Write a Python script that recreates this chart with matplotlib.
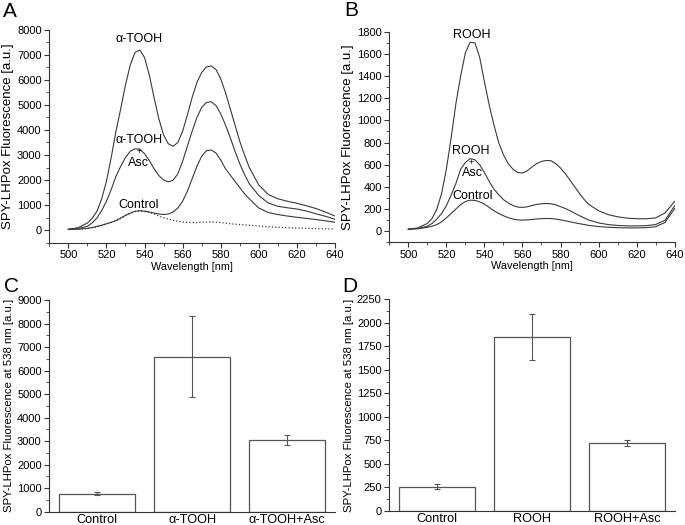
import matplotlib
matplotlib.use("Agg")
import matplotlib.pyplot as plt
from matplotlib.ticker import MultipleLocator

plt.rcParams['font.family'] = ['Liberation Sans', 'DejaVu Sans']
plt.rcParams['font.size'] = 8

# wavelength grid (nm)
wl = [500, 505, 510, 512.5, 515, 517.5, 520, 522.5, 525, 527.5, 530, 532.5, 535,
      537.5, 540, 542.5, 545, 547.5, 550, 552.5, 555, 557.5, 560, 562.5, 565,
      567.5, 570, 572.5, 575, 577.5, 580, 582.5, 585, 587.5, 590, 592.5, 595,
      600, 605, 610, 615, 620, 625, 630, 635, 640]

# panel A spectra
a_tooh = [30, 90, 280, 470, 750, 1250, 1950, 2900, 3950, 4850, 5800, 6600, 7100,
          7200, 6900, 6200, 5300, 4450, 3800, 3450, 3350, 3500, 3950, 4600, 5300,
          5900, 6300, 6520, 6560, 6420, 6050, 5500, 4850, 4200, 3550, 3000, 2500,
          1800, 1420, 1250, 1150, 1070, 970, 860, 720, 560]
a_tooh_asc = [30, 60, 150, 290, 480, 780, 1150, 1620, 2150, 2550, 2900, 3150, 3250,
              3230, 3050, 2780, 2450, 2180, 2000, 1930, 1990, 2250, 2750, 3350, 3950,
              4500, 4900, 5100, 5130, 4980, 4650, 4200, 3700, 3150, 2650, 2220, 1850,
              1380, 1080, 950, 890, 840, 760, 650, 550, 430]
a_third = [25, 35, 70, 100, 145, 195, 250, 310, 380, 480, 590, 680, 750,
           770, 760, 720, 680, 640, 620, 640, 720, 880, 1150, 1550, 2050,
           2550, 2950, 3170, 3200, 3080, 2800, 2450, 2200, 1950, 1700, 1450, 1250,
           880, 700, 620, 560, 510, 465, 420, 370, 310]
a_control = [20, 30, 60, 90, 130, 180, 240, 300, 360, 460, 570, 660, 740,
             760, 740, 700, 640, 560, 490, 440, 390, 350, 320, 305, 300,
             300, 310, 320, 320, 315, 300, 280, 250, 235, 220, 205, 190,
             160, 130, 110, 95, 80, 70, 60, 50, 40]

# panel B spectra
b_rooh = [18, 30, 70, 115, 200, 340, 560, 840, 1150, 1400, 1610, 1705, 1700,
          1570, 1350, 1140, 960, 800, 690, 610, 560, 530, 525, 545, 580,
          610, 630, 638, 636, 610, 570, 520, 460, 400, 340, 285, 240,
          185, 150, 130, 118, 113, 112, 120, 165, 270]
b_rooh_asc = [18, 25, 45, 70, 110, 160, 230, 325, 430, 560, 620, 655, 645,
              600, 530, 450, 380, 330, 285, 255, 232, 218, 215, 220, 232,
              242, 248, 250, 248, 238, 222, 205, 185, 162, 140, 120, 100,
              75, 60, 52, 48, 48, 50, 60, 100, 230]
b_control = [18, 22, 35, 45, 60, 85, 120, 160, 200, 240, 268, 280, 278,
             265, 245, 215, 185, 160, 140, 122, 110, 102, 100, 102, 106,
             110, 113, 115, 114, 110, 102, 94, 85, 76, 68, 60, 52,
             42, 36, 32, 30, 30, 32, 40, 80, 205]

# panels C and D: fluorescence at 538 nm
c_labels = ['Control', 'α-TOOH', 'α-TOOH+Asc']
c_means = [760, 6580, 3060]
c_err = [60, 1720, 220]
d_labels = ['Control', 'ROOH', 'ROOH+Asc']
d_means = [255, 1845, 718]
d_err = [28, 245, 32]

LC = '#3a3a3a'
fig = plt.figure(figsize=(6.85, 5.25), dpi=100)

axA = fig.add_axes([0.072, 0.538, 0.417, 0.405])
axB = fig.add_axes([0.5683, 0.5385, 0.4166, 0.401])
axC = fig.add_axes([0.072, 0.0253, 0.417, 0.4033])
axD = fig.add_axes([0.5683, 0.0272, 0.4166, 0.4027])


def style(ax):
    for s in ['top', 'right']:
        ax.spines[s].set_visible(False)
    for s in ['left', 'bottom']:
        ax.spines[s].set_color('#333333')
        ax.spines[s].set_linewidth(0.8)
    ax.tick_params(which='major', direction='out', length=3.5, width=0.8,
                   color='#333333', labelsize=8, pad=2)
    ax.tick_params(which='minor', direction='out', length=2, width=0.6,
                   color='#333333')


# ---- A ----
axA.plot(wl, a_tooh, color=LC, lw=0.8)
axA.plot(wl, a_tooh_asc, color=LC, lw=0.8)
axA.plot(wl, a_third, color=LC, lw=0.8)
axA.plot(wl, a_control, color=LC, lw=0.9, ls=':')
axA.set_xlim(490, 640)
axA.set_ylim(-500, 8000)
axA.xaxis.set_major_locator(MultipleLocator(20))
axA.xaxis.set_minor_locator(MultipleLocator(10))
axA.yaxis.set_major_locator(MultipleLocator(1000))
axA.yaxis.set_minor_locator(MultipleLocator(500))
style(axA)
axA.set_xlabel('Wavelength [nm]', fontsize=7.8, labelpad=1)
axA.set_ylabel('SPY-LHPox Fluorescence [a.u.]', fontsize=9.5, labelpad=2)
axA.text(537, 7620, 'α-TOOH', ha='center', va='center', fontsize=9)
axA.text(537, 3590, 'α-TOOH', ha='center', va='center', fontsize=9)
axA.text(537, 3140, '+', ha='center', va='center', fontsize=6.5, zorder=5)
axA.text(537, 2700, 'Asc', ha='center', va='center', fontsize=9)
axA.text(537, 1000, 'Control', ha='center', va='center', fontsize=9)

# ---- B ----
axB.plot(wl, b_rooh, color=LC, lw=0.8)
axB.plot(wl, b_rooh_asc, color=LC, lw=0.8)
axB.plot(wl, b_control, color=LC, lw=0.8)
axB.set_xlim(490, 640)
axB.set_ylim(-100, 1800)
axB.xaxis.set_major_locator(MultipleLocator(20))
axB.xaxis.set_minor_locator(MultipleLocator(10))
axB.yaxis.set_major_locator(MultipleLocator(200))
axB.yaxis.set_minor_locator(MultipleLocator(100))
style(axB)
axB.set_xlabel('Wavelength [nm]', fontsize=7.8, labelpad=1)
axB.set_ylabel('SPY-LHPox Fluorescence [a.u.]', fontsize=9.5, labelpad=2)
axB.text(533.5, 1775, 'ROOH', ha='center', va='center', fontsize=9)
axB.text(533, 722, 'ROOH', ha='center', va='center', fontsize=9)
axB.text(533, 622, '+', ha='center', va='center', fontsize=6.5, zorder=5)
axB.text(533.5, 527, 'Asc', ha='center', va='center', fontsize=9)
axB.text(534, 318, 'Control', ha='center', va='center', fontsize=9)

# ---- C ----
xc = range(len(c_labels))
axC.bar(xc, c_means, width=0.8, color='white', edgecolor='#555555', linewidth=0.9)
axC.errorbar(xc, c_means, yerr=c_err, fmt='none', ecolor='#555555',
             elinewidth=0.8, capsize=2.5, capthick=0.8)
axC.set_xlim(-0.5, 2.5)
axC.set_ylim(0, 9000)
axC.set_xticks(list(xc))
axC.set_xticklabels(c_labels, fontsize=9.2)
axC.yaxis.set_major_locator(MultipleLocator(1000))
axC.yaxis.set_minor_locator(MultipleLocator(500))
style(axC)
axC.tick_params(axis='x', length=0, pad=2, labelsize=9.2)
axC.set_ylabel('SPY-LHPox Fluorescence at 538 nm [a.u.]', fontsize=8.2, labelpad=2)

# ---- D ----
xd = range(len(d_labels))
axD.bar(xd, d_means, width=0.8, color='white', edgecolor='#555555', linewidth=0.9)
axD.errorbar(xd, d_means, yerr=d_err, fmt='none', ecolor='#555555',
             elinewidth=0.8, capsize=2.5, capthick=0.8)
axD.set_xlim(-0.5, 2.5)
axD.set_ylim(0, 2250)
axD.set_xticks(list(xd))
axD.set_xticklabels(d_labels, fontsize=9.2)
axD.yaxis.set_major_locator(MultipleLocator(250))
axD.yaxis.set_minor_locator(MultipleLocator(125))
style(axD)
axD.tick_params(axis='x', length=0, pad=2, labelsize=9.2)
axD.set_ylabel('SPY-LHPox Fluorescence at 538 nm [a.u.]', fontsize=8.2, labelpad=2)

# panel letters
for lab, x, y in [('A', 0.004, 0.978), ('B', 0.503, 0.98),
                  ('C', 0.006, 0.455), ('D', 0.5, 0.455)]:
    fig.text(x, y, lab, fontsize=15, ha='left', va='center')

fig.savefig('out.png', dpi=100)
